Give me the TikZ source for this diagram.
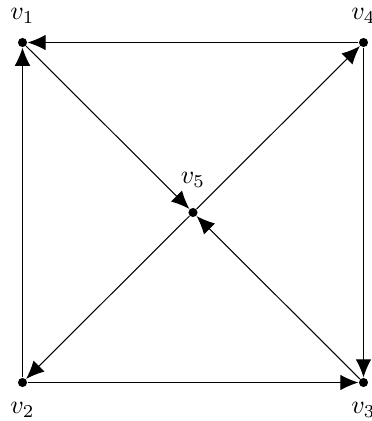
\documentclass[tikz,border=0pt]{standalone}
\usepackage{tikz}
\usetikzlibrary{arrows.meta, positioning}

\begin{document}
\begin{tikzpicture}[
  x=0.385pt, y=-0.385pt,
  vtx/.style={circle, fill=black, inner sep=0pt, minimum size=3.5pt},
  arr/.style={-{Latex[length=7pt, width=6pt]}, thin}
]
\useasboundingbox (0,0) rectangle (372,421);
\node[vtx, label={[label distance=2pt]above:$v_1$}] (v1) at (22.5,42.5) {};
\node[vtx, label={[label distance=2pt]below:$v_2$}] (v2) at (22.5,382.5) {};
\node[vtx, label={[label distance=2pt]below:$v_3$}] (v3) at (363.5,382.5) {};
\node[vtx, label={[label distance=2pt]above:$v_4$}] (v4) at (363.5,42.5) {};
\node[vtx, label={[label distance=4pt]above:$v_5$}] (v5) at (193,212.5) {};

\draw[arr] (v4) -- (v1);
\draw[arr] (v2) -- (v1);
\draw[arr] (v2) -- (v3);
\draw[arr] (v4) -- (v3);
\draw[arr] (v1) -- (v5);
\draw[arr] (v3) -- (v5);
\draw[arr] (v5) -- (v4);
\draw[arr] (v5) -- (v2);
\end{tikzpicture}
\end{document}
